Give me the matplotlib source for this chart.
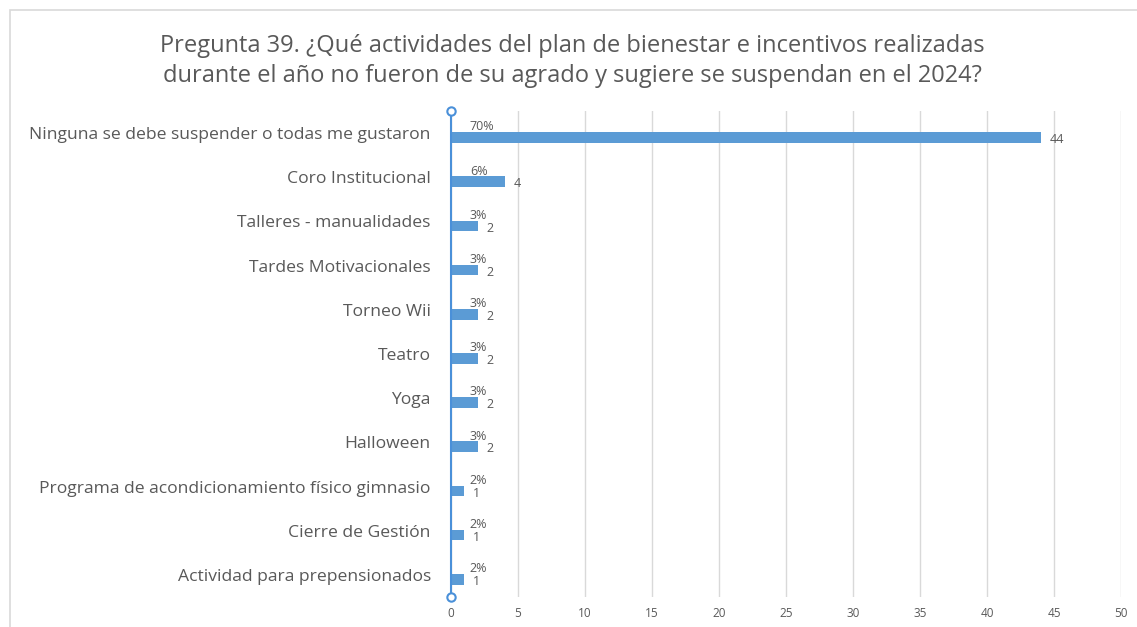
import matplotlib
matplotlib.use("Agg")
import matplotlib.pyplot as plt
from matplotlib.patches import Rectangle

categories = [
    "Ninguna se debe suspender o todas me gustaron",
    "Coro Institucional",
    "Talleres - manualidades",
    "Tardes Motivacionales",
    "Torneo Wii",
    "Teatro",
    "Yoga",
    "Halloween",
    "Programa de acondicionamiento físico gimnasio",
    "Cierre de Gestión",
    "Actividad para prepensionados",
]
values = [44, 4, 2, 2, 2, 2, 2, 2, 1, 1, 1]
percents = ["70%", "6%", "3%", "3%", "3%", "3%", "3%", "3%", "2%", "2%", "2%"]
xticks = [0, 5, 10, 15, 20, 25, 30, 35, 40, 45, 50]

title = ("Pregunta 39. ¿Qué actividades del plan de bienestar e incentivos realizadas\n"
         "durante el año no fueron de su agrado y sugiere se suspendan en el 2024?")

plt.rcParams['font.family'] = ['Open Sans', 'DejaVu Sans']
gray = "#595959"
blue = "#5B9BD5"

fig = plt.figure(figsize=(11.37, 6.27), dpi=100)
fig.patch.set_facecolor("white")

# chart border
fig.patches.append(Rectangle((10/1137, -0.01), 1.1, 1 - 10/627 + 0.01,
                             transform=fig.transFigure, fill=False,
                             edgecolor="#D9D9D9", linewidth=1.2))

ax = fig.add_axes([451/1137, 1 - 597/627, 670/1137, 486/627])
ypos = list(range(len(categories)))
bar_y = [y + 0.1 for y in ypos]
ax.barh(bar_y, values, height=0.24, color=blue, zorder=3)

ax.set_xlim(0, 50)
ax.set_ylim(len(categories) - 0.5, -0.5)
ax.set_xticks(xticks)
ax.set_xticklabels([str(t) for t in xticks], fontsize=8.5, color=gray)
ax.tick_params(axis="x", length=0, pad=7)
ax.set_yticks(ypos)
ax.set_yticklabels(categories, fontsize=12.6, color=gray)
ax.tick_params(axis="y", length=0, pad=14.5)
ax.grid(axis="x", color="#D9D9D9", linewidth=1, zorder=0)
for s in ax.spines.values():
    s.set_visible(False)

# blue value axis with handles
ax.plot([0, 0], [-0.5, len(categories) - 0.5], color="#4A90D9", linewidth=1.5,
        clip_on=False, zorder=4)
ax.plot([0, 0], [-0.5, len(categories) - 0.5], linestyle="none", marker="o",
        markersize=6, markerfacecolor="white", markeredgecolor="#4A90D9",
        markeredgewidth=1.5, clip_on=False, zorder=5)

for y, v, p in zip(bar_y, values, percents):
    ax.text(v + 0.65, y + 0.05, str(v), fontsize=9, color=gray,
            va="center", ha="left", zorder=6)
    ax.text(1.4, y - 0.24, p, fontsize=9, color=gray,
            va="center", ha="left", zorder=6)

fig.text(572/1137, 1 - 61/627, title, ha="center", va="center",
         fontsize=17, color=gray, linespacing=1.35)

fig.savefig("out.png", dpi=100, facecolor="white")
